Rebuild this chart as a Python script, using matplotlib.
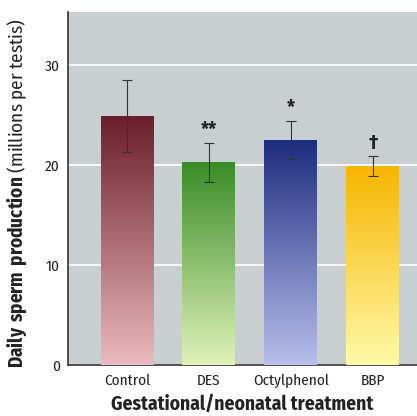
import numpy as np
import matplotlib
matplotlib.use("Agg")
import matplotlib.pyplot as plt
from matplotlib.colors import LinearSegmentedColormap

# ---------- Data ----------
categories = ["Control", "DES", "Octylphenol", "BBP"]
means = [24.9, 20.3, 22.5, 19.9]
errors = [3.6, 1.95, 1.9, 1.0]
marks = ["", "**", "*", "\u2020"]

# top (dark) -> bottom (light)
grad_top = ["#6a1e2c", "#3a8c28", "#1c2c7e", "#f7b500"]
grad_bot = ["#ecb9c0", "#dff3b8", "#b8bfec", "#fffaa8"]

FONT = ["Fira Sans Condensed", "Liberation Sans", "DejaVu Sans"]
plt.rcParams["font.family"] = FONT
plt.rcParams["mathtext.fontset"] = "custom"
plt.rcParams["mathtext.bf"] = "Fira Sans Condensed:bold"
plt.rcParams["mathtext.rm"] = "Fira Sans Condensed"

fig = plt.figure(figsize=(4.17, 4.16), dpi=100)
ax = fig.add_axes([0.163, 0.1226, 0.837, 0.8484])
ax.set_facecolor("#c9ced1")

x = np.arange(len(categories))
bars = ax.bar(x, means, width=0.645, color="none", edgecolor="none", zorder=2)
ax.errorbar(x, means, yerr=errors, fmt="none", ecolor="#333333",
            elinewidth=0.8, capsize=3.5, capthick=0.8, zorder=4)

# gradient fill for each bar
for b, ct, cb in zip(bars, grad_top, grad_bot):
    cmap = LinearSegmentedColormap.from_list("g", [cb, ct])
    grad = np.linspace(0, 1, 256).reshape(-1, 1)
    x0, y0 = b.get_x(), b.get_y()
    ax.imshow(grad, cmap=cmap, origin="lower", aspect="auto",
              extent=(x0, x0 + b.get_width(), y0, y0 + b.get_height()),
              zorder=3)

# significance marks
for xi, m, e, mk in zip(x, means, errors, marks):
    if mk:
        ax.text(xi, m + e + 0.3, mk, ha="center", va="bottom",
                fontsize=14, fontweight="bold", color="#222222")

ax.set_xlim(-0.72, 3.54)
ax.set_ylim(0, 35.3)
ax.set_yticks([0, 10, 20, 30])
ax.yaxis.grid(True, color="white", linewidth=1.2)
ax.set_axisbelow(True)

ax.set_xticks(x)
ax.set_xticklabels(categories)
ax.tick_params(axis="both", length=0, pad=6, labelsize=11, colors="#222222")

for s in ["top", "right"]:
    ax.spines[s].set_visible(False)
for s in ["left", "bottom"]:
    ax.spines[s].set_color("#333333")
    ax.spines[s].set_linewidth(1.2)

ax.set_ylabel(r"$\bf{Daily\ sperm\ production}$ (millions per testis)",
              fontsize=13.8, color="#222222")
ax.yaxis.set_label_coords(-0.112, 0.486)
ax.set_xlabel("Gestational/neonatal treatment", fontsize=14,
              fontweight="bold", color="#222222", labelpad=5)

fig.savefig("out.png", dpi=100)
